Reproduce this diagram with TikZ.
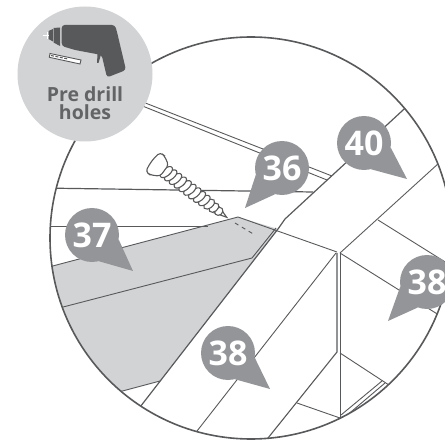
\documentclass[tikz,border=0pt]{standalone}
\usepackage{fontspec}
\setmainfont{Open Sans}
\definecolor{linegray}{HTML}{58595B}
\definecolor{bubblegray}{HTML}{939598}
\definecolor{panelgray}{HTML}{D1D3D4}
\definecolor{textgray}{HTML}{636466}

\begin{document}
\begin{tikzpicture}[
    x=1pt, y=-1pt,
    edge/.style={linegray, line width=0.9pt},
    bubble/.style={circle, fill=bubblegray, minimum size=54pt, inner sep=0pt},
    bubbletext/.style={text=white, inner sep=0pt, font=\fontsize{34}{34}\selectfont\bfseries},
    badge/.style={circle, fill=panelgray, minimum size=135pt, inner sep=0pt},
    badgetext/.style={align=center, text=textgray, inner sep=0pt,
                      font=\fontsize{19.5}{18.5}\selectfont\bfseries},
    thread/.style={draw=linegray, fill=white, line width=1.1pt},
]
\useasboundingbox (0,0) rectangle (445,441);
\clip (0,0) rectangle (445,441);
% Shaded board and roof lines, cut off by the lens
\begin{scope}
\clip (251,238) circle [radius=201];
\fill[panelgray] (30,272) -- (238,217) -- (278,229) -- (160,381) -- (100,397) -- cycle;
\draw[edge] (30,272) -- (238,217) -- (337,252);
\draw[edge] (40,313) -- (252,258) -- (276,228);
\draw[edge] (100,397) -- (160,381);
\draw[edge, line width=1.2pt] (130,420) -- (278,229) -- (285,219) -- (415,99);
\draw[edge] (30,226) -- (208,226);
\draw[edge, line width=1.2pt] (40,188) -- (313,192);
\draw[edge] (130,97) -- (332,176);
\draw[edge] (130,101) -- (327,180);
\draw[edge, dash pattern=on 4pt off 4pt] (235,223) -- (255,235);
\draw[edge] (190,440) -- (336,253);
\draw[edge] (340,253) -- (450,153);
\draw[edge] (340,253) -- (450,322);
\draw[edge] (378,220) -- (450,265);
\draw[edge, line width=1.1pt] (337,253) -- (337,352) -- (260,448);
\draw[edge, line width=1.1pt] (340.5,253) -- (340.5,418);
\draw[edge] (297,403) -- (340,418);
\draw[edge] (340,353) -- (392,387);
\draw[edge] (341,415) -- (382,381);
\draw[edge] (345,417) -- (385,383);
\end{scope}
\draw[linegray, line width=1.6pt] (251,238) circle [radius=201];
% Screw
\begin{scope}[shift={(155.5,164)}, rotate=-36.8]
\draw[thread] (76,-4) -- (89,0) -- (76,4) -- cycle;
\foreach \x/\r in {79/4.4, 73/5.6, 67/6.4, 61/6.8, 55/7.2, 49/7.4, 43/7.4, 37/7.4, 31/7.4, 25/7.4, 19/7.4, 13.5/7.4} {
    \draw[thread] (\x,0) ellipse [x radius=3.8, y radius=\r, rotate=-14];
}
\draw[thread, rounded corners=3pt] (-3,-12) .. controls (-5,-4) and (-5,4) .. (-3,12)
    -- (2,12) -- (11,7) -- (11,-7) -- (2,-12) -- cycle;
\end{scope}
% Number bubbles
\foreach \name/\cx/\cy/\tipx/\tipy/\angA/\angB/\txt in {
    b36/282/168/245/208/195/255/36,
    b40/364/143/407/179/-75/-10/40,
    b37/92/235/133/271/-75/-10/37,
    b38a/228/353/270/389/-75/-10/38,
    b38b/427/282/388/321/190/250/38} {
    \node[bubble] (\name) at (\cx,\cy) {};
    \coordinate (\name tip) at (\tipx,\tipy);
    \fill[bubblegray] (\name.\angA) -- (\name tip) -- (\name.\angB) -- cycle;
    \node[bubbletext] (\name label) at (\cx,\cy) {\txt};
}
% Pre drill badge
\node[badge] (drillbadge) at (85,74) {};
\node[badgetext] (drilllabel) at (85,103) {Pre drill\\holes};
% Drill
\fill[linegray, rounded corners=3pt] (61.7,25) -- (115,25) -- (117,32) -- (126,70)
    -- (107,77.5) -- (101.7,55) -- (75,50) -- (61.7,46) -- cycle;
\fill[linegray] (53.5,28) -- (60,27.5) -- (60,46) -- (53.5,42.5) -- cycle;
\fill[linegray] (48.5,31) -- (53,29) -- (53,41.5) -- (48.5,39) -- cycle;
\fill[linegray] (97.5,54) -- (101,54.5) -- (98.5,63) -- (97,63) -- cycle;
\draw[white, line width=0.9pt] (42.5,35.5) -- (48.5,35.5);
\draw[white, line width=0.9pt] (47,32) -- (47,39);
% Drill bit
\draw[linegray, fill=white, line width=0.9pt] (50,53.5) -- (81,60) -- (80,64) -- (49.3,57.3) -- cycle;
\draw[linegray, line width=1pt, dash pattern=on 3pt off 1.5pt] (51,55.5) -- (68,59);
\end{tikzpicture}
\end{document}
